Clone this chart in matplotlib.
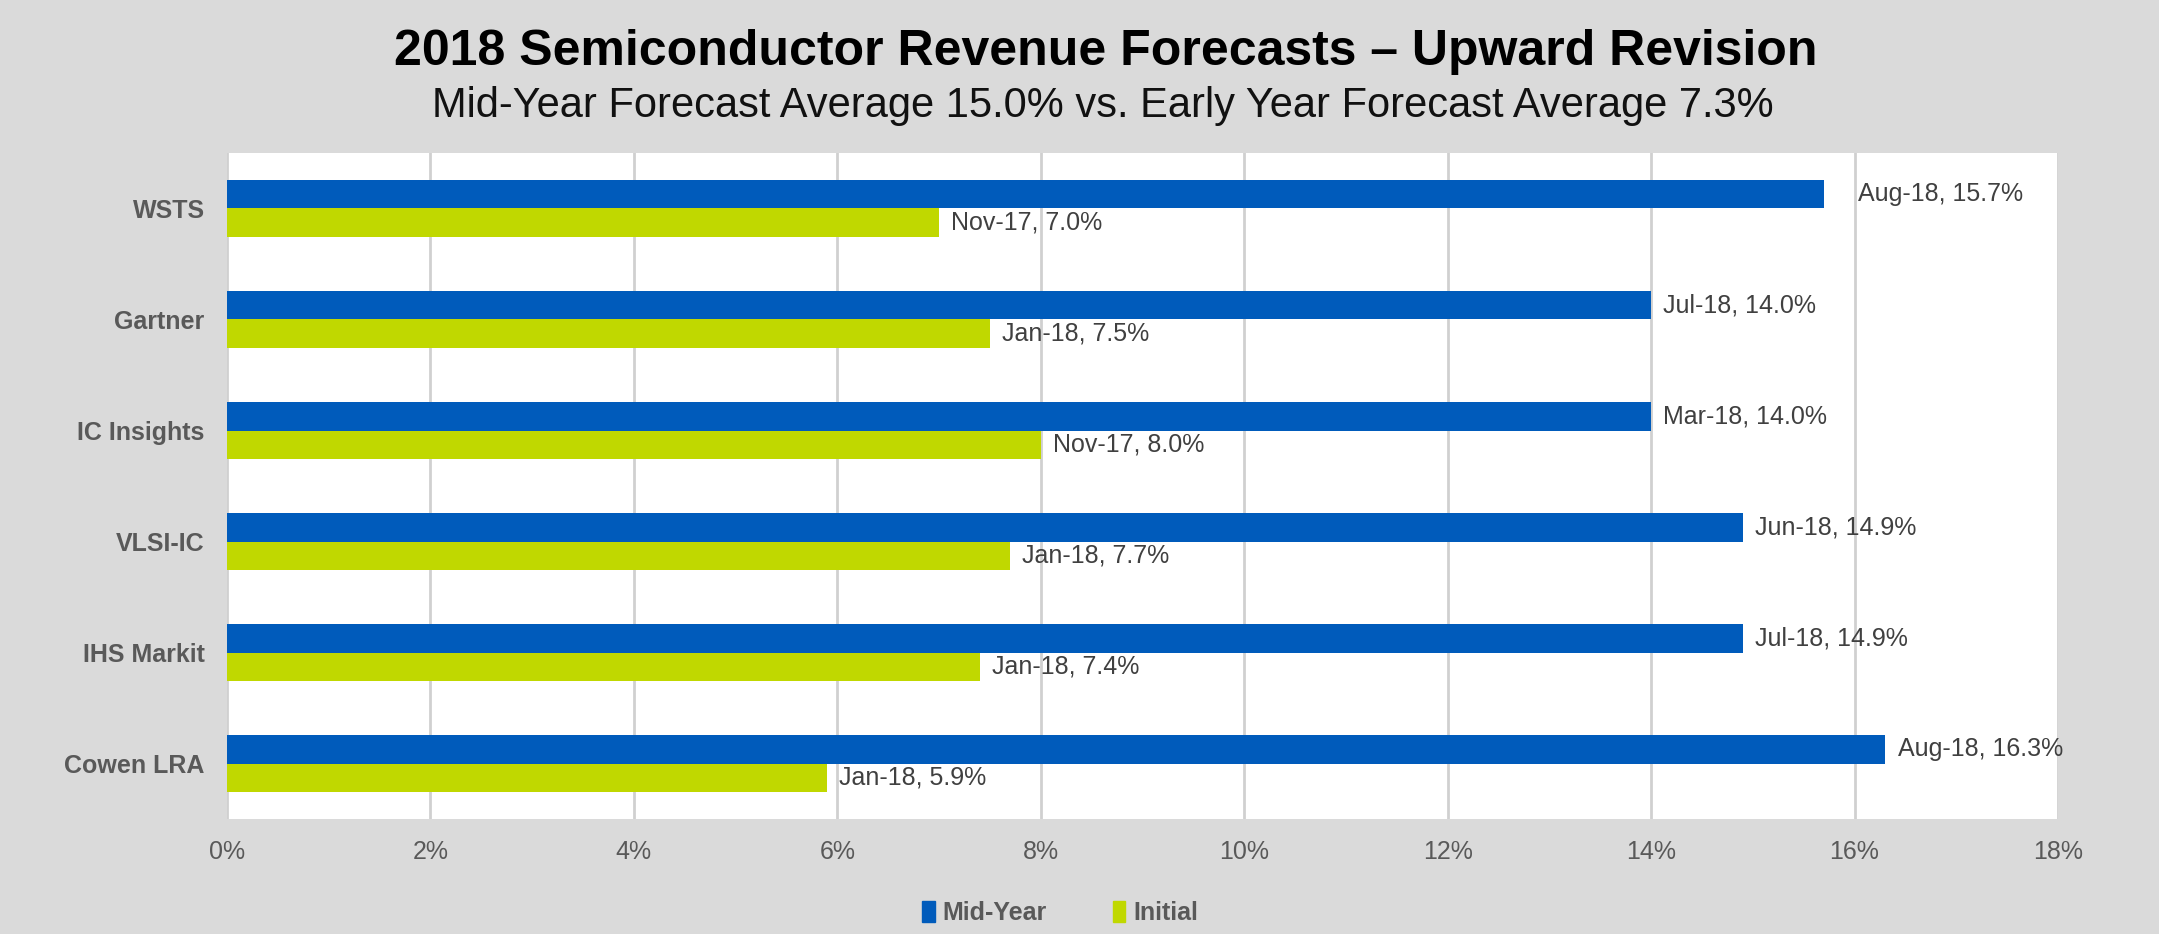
import numpy as np
import matplotlib.pyplot as plt
from matplotlib.patches import Patch

plt.rcParams['font.family'] = ['Liberation Sans', 'DejaVu Sans']

# data
categories = ['WSTS', 'Gartner', 'IC Insights', 'VLSI-IC', 'IHS Markit', 'Cowen LRA']
mid_year = [15.7, 14.0, 14.0, 14.9, 14.9, 16.3]
mid_dates = ['Aug-18', 'Jul-18', 'Mar-18', 'Jun-18', 'Jul-18', 'Aug-18']
initial = [7.0, 7.5, 8.0, 7.7, 7.4, 5.9]
init_dates = ['Nov-17', 'Jan-18', 'Nov-17', 'Jan-18', 'Jan-18', 'Jan-18']
xticks = [0, 2, 4, 6, 8, 10, 12, 14, 16, 18]

blue = '#005bbb'
green = '#c0d800'
bg = '#dadada'
# label offsets (first label was pushed out a bit further in the original)
mid_pad = [0.33, 0.12, 0.12, 0.12, 0.12, 0.13]

fig = plt.figure(figsize=(21.59, 9.34), dpi=100, facecolor=bg)
ax = fig.add_axes([0.1051, 0.1231, 0.8481, 0.7131])
ax.set_facecolor('white')

y = np.arange(len(categories))
h = 0.26
ax.barh(y - h / 2, mid_year, height=h, color=blue, zorder=3)
ax.barh(y + h / 2, initial, height=h, color=green, zorder=3)

for i in range(len(categories)):
    ax.text(mid_year[i] + mid_pad[i], y[i] - h / 2, f'{mid_dates[i]}, {mid_year[i]:.1f}%',
            va='center', ha='left', fontsize=18, color='#404040', zorder=4)
    ax.text(initial[i] + 0.12, y[i] + h / 2, f'{init_dates[i]}, {initial[i]:.1f}%',
            va='center', ha='left', fontsize=18, color='#404040', zorder=4)

ax.set_xlim(0, 18)
ax.set_ylim(len(categories) - 0.5, -0.5)
ax.set_xticks(xticks)
ax.set_xticklabels([f'{t}%' for t in xticks])
ax.set_yticks(y)
ax.set_yticklabels(categories, fontweight='bold')
ax.tick_params(axis='x', length=0, pad=15, labelsize=18, labelcolor='#595959')
ax.tick_params(axis='y', length=0, pad=16, labelsize=18, labelcolor='#595959')
ax.grid(axis='x', color='#d0d0d0', linewidth=2, zorder=0)
for s in ax.spines.values():
    s.set_visible(False)

fig.text(0.512, 0.944, '2018 Semiconductor Revenue Forecasts \u2013 Upward Revision',
         ha='center', va='center', fontsize=36, fontweight='bold', color='black')
fig.text(0.511, 0.887, 'Mid-Year Forecast Average 15.0% vs. Early Year Forecast Average 7.3%',
         ha='center', va='center', fontsize=30, color='#111111')

handles = [Patch(color=blue, label='Mid-Year'), Patch(color=green, label='Initial')]
leg = fig.legend(handles=handles, loc='center', bbox_to_anchor=(0.491, 0.022), ncol=2,
                 frameon=False, fontsize=18, handlelength=0.5, handleheight=0.9,
                 handletextpad=0.3, columnspacing=2.65)
for t in leg.get_texts():
    t.set_fontweight('bold')
    t.set_color('#595959')

fig.savefig('out.png', dpi=100, facecolor=bg)
